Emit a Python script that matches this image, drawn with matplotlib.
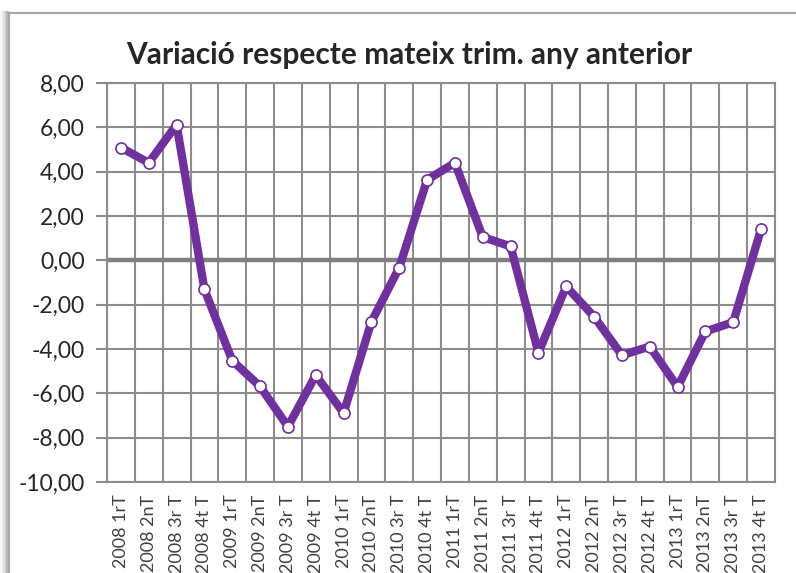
import matplotlib.pyplot as plt
import matplotlib.patches as mpatches
from matplotlib.ticker import FuncFormatter
import numpy as np

quarters = ["2008 1rT", "2008 2nT", "2008 3r T", "2008 4t T",
            "2009 1rT", "2009 2nT", "2009 3r T", "2009 4t T",
            "2010 1rT", "2010 2nT", "2010 3r T", "2010 4t T",
            "2011 1rT", "2011 2nT", "2011 3r T", "2011 4t T",
            "2012 1rT", "2012 2nT", "2012 3r T", "2012 4t T",
            "2013 1rT", "2013 2nT", "2013 3r T", "2013 4t T"]
variacio = [5.09, 4.40, 6.12, -1.31,
            -4.52, -5.69, -7.50, -5.18,
            -6.89, -2.77, -0.33, 3.63,
            4.40, 1.05, 0.63, -4.16,
            -1.18, -2.54, -4.28, -3.89,
            -5.71, -3.21, -2.79, 1.41]
y_ticks = [-10, -8, -6, -4, -2, 0, 2, 4, 6, 8]

W, H = 796, 573
fig = plt.figure(figsize=(W / 100, H / 100), dpi=100)
fig.patch.set_facecolor('white')

# shadow + frame of the chart area
for i, a in enumerate([0.05, 0.08, 0.12, 0.18, 0.25]):
    fig.patches.append(mpatches.Rectangle((i * 1.6 / W, -0.1), (9 - i * 1.6) / W, 1 - 13 / H + 0.1 + 0.003,
                                          transform=fig.transFigure, facecolor='#808080',
                                          alpha=a, edgecolor='none', zorder=0))
fig.patches.append(mpatches.Rectangle((9 / W, -0.1), 1.0, 1 - 13 / H + 0.1,
                                      transform=fig.transFigure, facecolor='white',
                                      edgecolor='#a6a6a6', linewidth=1.5, zorder=1))

ax = fig.add_axes([107 / W, 1 - 482 / H, (775 - 107) / W, (482 - 83) / H])
ax.set_zorder(2)
ax.patch.set_facecolor('white')

x = np.arange(len(quarters))
ax.axhline(0, color='#808080', linewidth=3.2, zorder=2)
ax.plot(x, variacio, color='#7030a0', linewidth=6, marker='o', markersize=8,
        markerfacecolor='white', markeredgecolor='#7030a0', markeredgewidth=1.2,
        solid_joinstyle='round', solid_capstyle='round', zorder=3)

ax.set_xlim(-0.5, len(quarters) - 0.5)
ax.set_ylim(-10, 8)
ax.set_yticks(y_ticks)
ax.yaxis.set_major_formatter(FuncFormatter(lambda v, p: f"{v:.2f}".replace('.', ',')))
ax.set_xticks(x)
ax.set_xticklabels(quarters, rotation=90, fontsize=13, color='#404040', family='Lato')
ax.set_xticks(np.arange(-0.5, len(quarters), 1), minor=True)
ax.tick_params(axis='x', which='both', length=0, pad=9)
ax.tick_params(axis='y', length=8, width=1.5, color='#8c8c8c', labelsize=16.5,
               labelcolor='#262626', pad=8)
for lab in ax.get_yticklabels():
    lab.set_family('Lato')

ax.grid(axis='y', which='major', color='#8c8c8c', linewidth=1.5)
ax.grid(axis='x', which='minor', color='#8c8c8c', linewidth=1.5)
ax.set_axisbelow(True)
for s in ax.spines.values():
    s.set_color('#8c8c8c')
    s.set_linewidth(1.5)

fig.text(409 / W, 1 - 55 / H, "Variació respecte mateix trim. any anterior",
         ha='center', va='center', fontsize=21.5, fontweight='bold', color='#262626',
         family='Lato')

fig.savefig('out.png', dpi=100)
